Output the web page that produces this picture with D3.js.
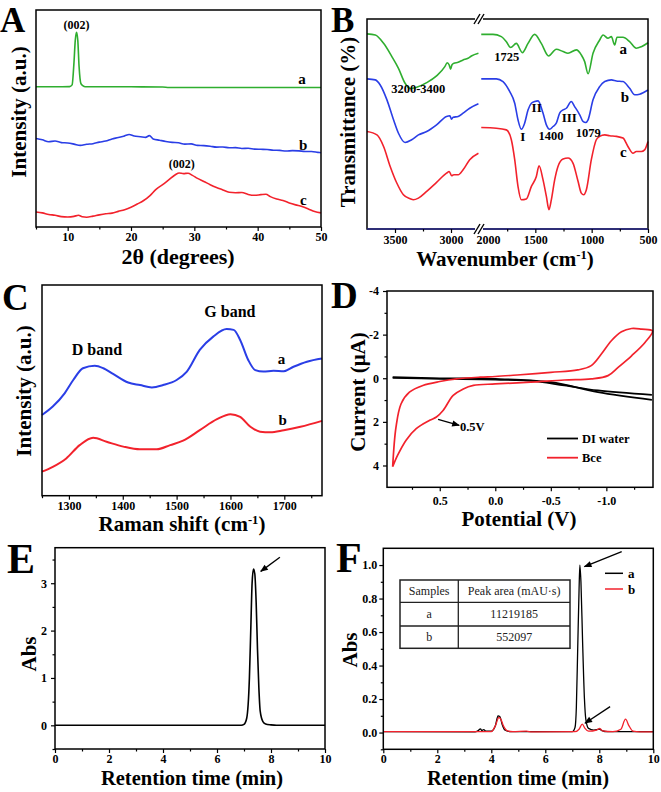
<!DOCTYPE html>
<html><head><meta charset="utf-8">
<script src="https://cdn.jsdelivr.net/npm/d3@7"></script>
<style>body{margin:0;background:#fff}</style>
</head><body>
<script>
const FONT="'Liberation Serif','Times New Roman',Times,serif";
// ================= DATA =================
// Panel A: XRD (2θ, intensity a.u., stacked)
const xrdTicks=[10,20,30,40,50];
const xrdMinor=[5,15,25,35,45];
const xrdA=[[5,64.6],[8,64.6],[10.3,64.7],[10.7,65.5],[11.0,76],[11.2,86],[11.4,89.7],[11.6,86],[11.8,74],[12.1,66],[12.6,64.8],[13,64.6],[20,64.6],[25,64.5],[26,64.3],[35,64.3],[50,64.3]];
const xrdB=[[5,40.8],[6,40.2],[7,39.3],[8,39.6],[9,38.9],[10,38.7],[11,38.2],[12,37.6],[13,38.1],[14,38.4],[15,39.1],[16,39.6],[17,40.6],[18,41.2],[19,42.0],[19.7,42.6],[20.5,41.9],[21.5,41.6],[22.3,41.3],[22.9,42.1],[23.5,40.6],[24.5,40.0],[25.5,39.4],[26.5,39.0],[27.5,38.8],[28.5,38.2],[29.5,38.3],[30.5,37.6],[31.5,37.5],[32.5,37.2],[33.5,36.8],[34.5,36.9],[35.5,36.5],[36.5,36.6],[37.5,36.2],[38.5,36.3],[39.5,35.9],[40.5,35.8],[41.5,35.7],[42.5,35.4],[43.5,35.3],[44.5,35.0],[45.5,35.2],[46.5,35.1],[47.5,34.8],[48.5,34.8],[49.5,34.4],[50,34.2]];
const xrdC=[[5,6.9],[6,6.5],[7,5.8],[8,5.4],[9,4.8],[10,4.6],[11,4.9],[11.7,5.4],[12.3,4.7],[13,4.5],[14,5.0],[15,5.6],[16,6.1],[17,6.4],[18,7.2],[19,8.0],[20,9.1],[21,10.6],[22,12.2],[23,14.5],[24,17.5],[25,19.5],[26,21.8],[27,24.1],[27.6,24.9],[28.3,24.6],[29,24.8],[29.7,23.8],[30.5,22.4],[31.5,21.0],[32.5,19.5],[33.5,18.2],[34.5,17.1],[35.5,16.0],[36.5,15.8],[37.5,15.9],[38.5,15.0],[39.5,14.6],[40.5,14.9],[41.3,15.1],[42,14.0],[43,12.9],[44,12.2],[45,11.1],[46,10.2],[47,9.4],[48,8.3],[49,7.1],[50,6.5]];

// Panel B: FTIR (wavenumber, transmittance a.u.), broken axis
const ftirTicksL=[3500,3000], ftirMinorL=[3250];
const ftirTicksR=[2000,1500,1000,500], ftirMinorR=[1750,1250,750];
const ftirA_L=[[3750,92.9],[3676,92.4],[3602,88.4],[3528,82.1],[3469,76.5],[3410,69.4],[3365,66.9],[3306,67.5],[3217,69.7],[3129,72.9],[3055,77.3],[3034,79.2],[3016,78.1],[3004,76.1],[2992,78.1],[2975,78.9],[2936,79.4],[2892,80.5],[2848,81.3],[2818,82.4],[2755,83.7]];
const ftirA_R=[[1980,92.7],[1876,92.7],[1802,91.6],[1757,89.2],[1719,86.4],[1669,88.4],[1615,84.0],[1565,88.4],[1506,92.7],[1447,88.4],[1382,82.4],[1314,85.6],[1254,84.5],[1210,83.7],[1136,85.3],[1092,82.9],[1062,79.7],[1032,73.9],[988,83.7],[929,90.0],[899,92.4],[855,90.8],[825,91.6],[796,87.6],[775,91.3],[722,91.3],[663,89.2],[604,86.1],[559,86.8],[500,88.7]];
const ftirB_L=[[3750,71.5],[3676,71.0],[3632,68.6],[3572,61.5],[3513,52.0],[3469,45.6],[3410,41.2],[3351,42.5],[3291,44.8],[3217,46.4],[3129,49.6],[3040,53.6],[3010,53.9],[2995,52.3],[2981,53.2],[2936,53.6],[2892,55.2],[2833,57.5],[2755,59.6]];
const ftirB_R=[[1980,71.5],[1846,71.5],[1787,70.2],[1728,65.5],[1683,59.9],[1654,52.0],[1624,47.5],[1595,50.4],[1565,56.7],[1535,59.9],[1506,60.7],[1476,61.0],[1432,55.2],[1402,49.6],[1373,47.5],[1343,48.8],[1314,50.4],[1284,55.2],[1254,56.7],[1225,57.5],[1181,60.7],[1151,58.3],[1106,54.4],[1077,51.2],[1053,50.7],[1032,52.0],[988,61.5],[929,67.8],[884,70.2],[825,71.0],[781,70.5],[722,70.2],[663,67.0],[618,63.9],[574,64.2],[500,66.2]];
const ftirC_L=[[3750,46.4],[3661,44.8],[3602,39.3],[3543,29.8],[3484,21.9],[3425,16.3],[3365,14.4],[3336,13.9],[3291,14.7],[3217,17.9],[3129,22.2],[3040,26.6],[3016,27.4],[2995,25.4],[2975,25.8],[2936,25.8],[2892,28.2],[2833,33.0],[2755,36.1]];
const ftirC_R=[[1980,48.3],[1846,48.0],[1757,47.2],[1713,42.5],[1683,33.0],[1654,20.3],[1624,13.9],[1580,14.3],[1535,20.3],[1491,25.0],[1467,30.1],[1432,23.5],[1402,15.5],[1379,9.2],[1358,13.9],[1328,23.5],[1299,29.8],[1254,33.3],[1210,33.8],[1166,31.4],[1121,22.7],[1092,17.1],[1071,16.3],[1047,18.7],[1003,33.0],[959,42.5],[929,44.1],[884,44.8],[840,44.4],[781,44.1],[722,43.3],[678,39.3],[633,36.1],[604,36.9],[559,36.9],[530,37.7],[500,41.7]];

// Panel C: Raman (shift, intensity a.u.)
const ramanTicks=[1300,1400,1500,1600,1700];
const ramanMinor=[1250,1350,1450,1550,1650,1750];
const ramanA=[[1250,38.3],[1270,42.3],[1292,48.6],[1308,54.9],[1326,60.5],[1348,61.7],[1364,60.5],[1382,57.8],[1410,53.7],[1432,52.5],[1454,51.4],[1475,52.5],[1500,54.9],[1519,58.9],[1543,69.2],[1568,75.5],[1593,79.1],[1606,78.7],[1618,73.9],[1633,64.4],[1646,59.6],[1661,58.9],[1680,59.3],[1699,59.1],[1717,61.2],[1742,63.6],[1770,65.1]];
const ramanB=[[1250,11.4],[1270,13.7],[1295,17.7],[1320,24.0],[1345,27.5],[1370,25.6],[1401,23.3],[1432,22.0],[1463,22.0],[1488,24.0],[1512,26.1],[1543,31.1],[1575,36.3],[1600,38.7],[1618,37.4],[1637,32.7],[1655,30.4],[1674,30.1],[1699,31.1],[1730,32.7],[1770,35.5]];

// Panel D: CV (potential V, current μA)
const cvTicksX=[0.5,0.0,-0.5,-1.0], cvMinorX=[0.75,0.25,-0.25,-0.75,-1.25];
const cvTicksY=[-4,-2,0,2,4], cvMinorY=[-3,-1,1,3];
const cvWaterFwd=[[0.924,-0.05],[0.5,0.0],[0.0,0.03],[-0.318,0.11],[-0.621,0.33],[-0.924,0.56],[-1.41,0.76]];
const cvWaterRev=[[-1.41,0.99],[-0.924,0.64],[-0.5,0.18],[0.0,0.06],[0.5,0.03],[0.924,-0.02]];
const cvBce=[[0.924,4.06],[0.894,2.24],[0.848,1.17],[0.773,0.64],[0.652,0.33],[0.5,0.15],[0.348,0.03],[0.136,-0.05],[0.0,-0.08],[-0.197,-0.15],[-0.5,-0.27],[-0.742,-0.38],[-0.864,-0.58],[-0.955,-1.11],[-1.045,-1.72],[-1.136,-2.13],[-1.227,-2.28],[-1.318,-2.25],[-1.415,-2.17],[-1.348,-1.64],[-1.227,-1.03],[-1.106,-0.50],[-1.015,-0.12],[-0.864,0.03],[-0.621,0.08],[-0.318,0.18],[0.0,0.26],[0.197,0.33],[0.288,0.49],[0.379,0.79],[0.470,1.48],[0.530,1.78],[0.591,1.93],[0.712,2.31],[0.803,2.84],[0.879,3.53],[0.924,4.06]];
const cvLegend=["DI water","Bce"];

// Panel E: HPLC standard
const hplcTicksX=[0,2,4,6,8,10], hplcMinorX=[1,3,5,7,9];
const eTicksY=[0,1,2,3], eMinorY=[-0.5,0.5,1.5,2.5,3.5];
const hplcE=[[0,0],[6.9,0],[7.0,0.02],[7.1,0.15],[7.2,1.0],[7.25,2.0],[7.3,3.0],[7.35,3.3],[7.4,3.2],[7.45,2.6],[7.5,1.6],[7.55,0.8],[7.6,0.3],[7.7,0.08],[7.8,0.03],[8.0,0.01],[8.2,0],[10,0]];

// Panel F: HPLC samples
const fTicksY=[0,0.2,0.4,0.6,0.8,1.0], fMinorY=[-0.1,0.1,0.3,0.5,0.7,0.9];
const hplcFa=[[0,0.005],[3.4,0.004],[3.5,0.01],[3.6,0.022],[3.65,0.012],[3.72,0.018],[3.8,0.008],[4.0,0.008],[4.15,0.04],[4.25,0.1],[4.32,0.095],[4.4,0.05],[4.5,0.015],[4.7,0.005],[5.3,0.006],[7.0,0.005],[7.1,0.03],[7.15,0.15],[7.2,0.5],[7.25,0.85],[7.28,1.0],[7.32,0.9],[7.38,0.55],[7.45,0.2],[7.5,0.08],[7.6,0.025],[7.8,0.015],[8.0,0.02],[8.1,0.012],[8.3,0.005],[10,0.005]];
const hplcFb=[[0,0.005],[4.0,0.006],[4.15,0.04],[4.28,0.09],[4.35,0.08],[4.45,0.04],[4.6,0.01],[4.8,0.005],[5.3,0.008],[5.5,0.004],[7.1,0.005],[7.25,0.02],[7.37,0.05],[7.47,0.025],[7.6,0.008],[7.9,0.015],[8.02,0.025],[8.12,0.01],[8.5,0.005],[8.8,0.02],[8.97,0.08],[9.1,0.04],[9.25,0.008],[9.5,0.004],[10,0.004]];
const fLegend=["a","b"];
const tableHeader=["Samples","Peak area (mAU\u00b7s)"];
const tableRows=[["a","11219185"],["b","552097"]];

// ================= DRAW =================
const GREEN="#2fae2f", BLUE="#2a3ee6", RED="#f2222c";
const svg=d3.select("body").append("svg").attr("width",661).attr("height",792).style("background","#fff");
const defs=svg.append("defs");
defs.append("marker").attr("id","arr").attr("viewBox","0 0 10 10").attr("refX",9).attr("refY",5)
  .attr("markerWidth",7).attr("markerHeight",6).attr("orient","auto")
  .append("path").attr("d","M0,1L10,5L0,9Z").attr("fill","#000");

function txt(x,y,s,o={}){
  return svg.append("text").attr("x",x).attr("y",y).text(s)
   .attr("font-family",FONT).attr("font-weight",o.w||"bold").attr("font-size",o.fs||13)
   .attr("text-anchor",o.a||"middle").attr("fill",o.c||"#000");
}
function ytitle(x,y,s,fs){
  return svg.append("text").attr("transform",`translate(${x},${y}) rotate(-90)`).text(s)
   .attr("font-family",FONT).attr("font-weight","bold").attr("font-size",fs||21).attr("text-anchor","middle");
}
function frame(x0,x1,y0,y1){
  svg.append("rect").attr("x",x0).attr("y",y0).attr("width",x1-x0).attr("height",y1-y0)
   .attr("fill","none").attr("stroke","#000").attr("stroke-width",1.5);
}
function axB(scale,y,major,minor,fmt,pad){
  const g=svg.append("g").attr("transform",`translate(0,${y})`)
   .call(d3.axisBottom(scale).tickValues(major).tickFormat(fmt).tickSize(4).tickSizeOuter(0).tickPadding(pad));
  g.select(".domain").remove();
  g.attr("font-family",FONT).attr("font-size",12).attr("font-weight","bold");
  g.selectAll("line").attr("stroke","#000").attr("stroke-width",1.2);
  if(minor){
    const m=svg.append("g").attr("transform",`translate(0,${y})`)
     .call(d3.axisBottom(scale).tickValues(minor).tickFormat("").tickSize(2.5).tickSizeOuter(0));
    m.select(".domain").remove(); m.selectAll("line").attr("stroke","#000").attr("stroke-width",1.2);
  }
  return g;
}
function axL(scale,x,major,minor,fmt,pad){
  const g=svg.append("g").attr("transform",`translate(${x},0)`)
   .call(d3.axisLeft(scale).tickValues(major).tickFormat(fmt).tickSize(4).tickSizeOuter(0).tickPadding(pad));
  g.select(".domain").remove();
  g.attr("font-family",FONT).attr("font-size",12).attr("font-weight","bold");
  g.selectAll("line").attr("stroke","#000").attr("stroke-width",1.2);
  if(minor){
    const m=svg.append("g").attr("transform",`translate(${x},0)`)
     .call(d3.axisLeft(scale).tickValues(minor).tickFormat("").tickSize(2.5).tickSizeOuter(0));
    m.select(".domain").remove(); m.selectAll("line").attr("stroke","#000").attr("stroke-width",1.2);
  }
  return g;
}
function path(data,sx,sy,color,w,curve){
  svg.append("path").datum(data).attr("fill","none").attr("stroke",color).attr("stroke-width",w)
   .attr("stroke-linejoin","round")
   .attr("d",d3.line().x(d=>sx(d[0])).y(d=>sy(d[1])).curve(curve||d3.curveMonotoneX));
}
function arrow(x1,y1,x2,y2){
  svg.append("line").attr("x1",x1).attr("y1",y1).attr("x2",x2).attr("y2",y2)
   .attr("stroke","#000").attr("stroke-width",1.3).attr("marker-end","url(#arr)");
}
function supTitle(x,y,pre,sup,post,fs){
  const t=svg.append("text").attr("x",x).attr("y",y).attr("font-family",FONT).attr("font-weight","bold")
   .attr("font-size",fs).attr("text-anchor","middle");
  t.append("tspan").text(pre);
  t.append("tspan").attr("dy",-7).attr("font-size",fs*0.6).text(sup);
  t.append("tspan").attr("dy",7).text(post);
}

// ---------- Panel A ----------
{
 const sx=d3.scaleLinear().domain([5,50]).range([36,321]);
 const sy=d3.scaleLinear().domain([0,100]).range([227,10]);
 path(xrdA,sx,sy,GREEN,1.6);
 path(xrdB,sx,sy,BLUE,1.6);
 path(xrdC,sx,sy,RED,1.6);
 frame(36,321,10,227);
 axB(sx,227,xrdTicks,xrdMinor,d=>d,1.5);
 txt(sx(11.4),sy(91.3),"(002)",{fs:12});
 txt(sx(28),sy(27),"(002)",{fs:12});
 txt(sx(47),sy(66),"a",{fs:15});
 txt(sx(47.2),sy(35.5),"b",{fs:15});
 txt(sx(47.2),sy(10.3),"c",{fs:15});
 txt(178,264,"2\u03b8 (degrees)",{fs:22});
 ytitle(26,112,"Intensity (a.u.)",21);
 txt(0,32,"A",{fs:35,a:"start"});
}
// ---------- Panel B ----------
{
 const sxL=d3.scaleLinear().domain([3750,2750]).range([367,479]);
 const sxR=d3.scaleLinear().domain([2000,500]).range([479,648]);
 const sy=d3.scaleLinear().domain([0,100]).range([229,19]);
 [[ftirA_L,ftirA_R,GREEN],[ftirB_L,ftirB_R,BLUE],[ftirC_L,ftirC_R,RED]].forEach(([l,r,c])=>{
   path(l,sxL,sy,c,1.6); path(r,sxR,sy,c,1.6);
 });
 frame(367,648,19,229);
 svg.append("line").attr("x1",367).attr("x2",648).attr("y1",229).attr("y2",229).attr("stroke","#2a2a8a").attr("stroke-width",1.5);
 axB(sxL,229,ftirTicksL,ftirMinorL,d=>d,2);
 const gR=axB(sxR,229,ftirTicksR,ftirMinorR,d=>d,2);
 gR.selectAll(".tick").filter(d=>d===2000).select("line").remove();
 gR.selectAll(".tick").filter(d=>d===2000).select("text").attr("dx",9);
 // break marks
 [19,229].forEach(y=>{
   svg.append("rect").attr("x",475).attr("y",y-2).attr("width",8).attr("height",4).attr("fill","#fff");
   [-2,2].forEach(o=>svg.append("line").attr("x1",479+o-3).attr("y1",y+5).attr("x2",479+o+3).attr("y2",y-5)
     .attr("stroke","#000").attr("stroke-width",1.4));
 });
 txt(sxR(1754),sy(80.2),"1725",{fs:12.5});
 txt(sxR(720),sy(83.5),"a",{fs:15});
 txt(sxL(3292),sy(64.8),"3200-3400",{fs:12.5});
 txt(sxR(705),sy(60.5),"b",{fs:15});
 txt(sxR(1612),sy(42),"I",{fs:13});
 txt(sxR(1488),sy(55.8),"II",{fs:13});
 txt(sxR(1361),sy(42.3),"1400",{fs:12.5});
 txt(sxR(1199),sy(51),"III",{fs:13});
 txt(sxR(1030),sy(43.9),"1079",{fs:12.5});
 txt(sxR(720),sy(34.3),"c",{fs:15});
 supTitle(505,266,"Wavenumber (cm","-1",")",21);
 ytitle(355,122,"Transmittance (%)",21);
 txt(331,32,"B",{fs:35,a:"start"});
}
// ---------- Panel C ----------
{
 const sx=d3.scaleLinear().domain([1250,1770]).range([42,322]);
 const sy=d3.scaleLinear().domain([0,100]).range([495.7,285]);
 path(ramanA,sx,sy,BLUE,2);
 path(ramanB,sx,sy,RED,2);
 frame(42,322,285,495.7);
 axB(sx,495.7,ramanTicks,ramanMinor,d=>d,2);
 txt(sx(1352),sy(67),"D band",{fs:16});
 txt(sx(1599),sy(84.7),"G band",{fs:16});
 txt(sx(1695),sy(62.7),"a",{fs:15});
 txt(sx(1697),sy(33.7),"b",{fs:15});
 supTitle(182,531,"Raman shift (cm","-1",")",21);
 ytitle(31,391,"Intensity (a.u.)",21);
 txt(2,310,"C",{fs:37,a:"start"});
}
// ---------- Panel D ----------
{
 const sx=d3.scaleLinear().domain([0.975,-1.42]).range([387,653]);
 const sy=d3.scaleLinear().domain([-4,5]).range([291,487.3]);
 path(cvWaterFwd,sx,sy,"#000",1.7,d3.curveCatmullRom);
 path(cvWaterRev,sx,sy,"#000",1.7,d3.curveCatmullRom);
 path(cvBce,sx,sy,RED,1.7,d3.curveCatmullRom);
 frame(387,653,291,487.3);
 axB(sx,487.3,cvTicksX,cvMinorX,d=>d.toFixed(1),5);
 axL(sy,387,cvTicksY,cvMinorY,d=>String(d),4);
 arrow(sx(0.515),sy(1.89),sx(0.325),sy(2.16));
 txt(sx(0.318),sy(2.24)+4,"0.5V",{fs:12.5,a:"start"});
 [["#000",438.5],[RED,457.7]].forEach(([c,y],i)=>{
   svg.append("line").attr("x1",547).attr("x2",578).attr("y1",y).attr("y2",y).attr("stroke",c).attr("stroke-width",1.8);
   txt(582,y+4.5,cvLegend[i],{fs:12.5,a:"start"});
 });
 txt(519,526,"Potential (V)",{fs:21});
 ytitle(365,392,"Current (\u03bcA)",21);
 txt(331,308,"D",{fs:37,a:"start"});
}
// ---------- Panel E ----------
{
 const sx=d3.scaleLinear().domain([0,10]).range([55,325]);
 const sy=d3.scaleLinear().domain([-0.5,3.75]).range([749,547.7]);
 path(hplcE,sx,sy,"#000",1.6);
 frame(55,325,547.7,749);
 axB(sx,749,hplcTicksX,hplcMinorX,d=>d,1);
 axL(sy,55,eTicksY,eMinorY,d=>d,4);
 arrow(sx(8.33),sy(3.55),sx(7.62),sy(3.25));
 txt(192,785,"Retention time (min)",{fs:20.5});
 ytitle(36,654,"Abs",21);
 txt(7,573,"E",{fs:42,a:"start"});
}
// ---------- Panel F ----------
{
 const sx=d3.scaleLinear().domain([0,10]).range([383.3,653.3]);
 const sy=d3.scaleLinear().domain([-0.1,1.1]).range([749.3,548.3]);
 path(hplcFa,sx,sy,"#000",1.3);
 path(hplcFb,sx,sy,RED,1.3);
 frame(383.3,653.3,548.3,749.3);
 axB(sx,749.3,hplcTicksX,hplcMinorX,d=>d,1);
 axL(sy,383.3,fTicksY,fMinorY,d=>d.toFixed(1),2);
 arrow(sx(8.83),sy(1.08),sx(7.45),sy(0.99));
 arrow(sx(8.4),sy(0.155),sx(7.47),sy(0.056));
 [["#000",573.3],[RED,589]].forEach(([c,y],i)=>{
   svg.append("line").attr("x1",605).attr("x2",623).attr("y1",y).attr("y2",y).attr("stroke",c).attr("stroke-width",1.5);
   txt(628,y+4.5,fLegend[i],{fs:13,a:"start"});
 });
 // table
 const tx0=400,tx1=570,tcol=458.3,ty=[580,602.3,626,648.3];
 svg.append("rect").attr("x",tx0).attr("y",ty[0]).attr("width",tx1-tx0).attr("height",ty[3]-ty[0])
   .attr("fill","#fff").attr("stroke","#222").attr("stroke-width",1.5);
 svg.append("line").attr("x1",tcol).attr("x2",tcol).attr("y1",ty[0]).attr("y2",ty[3]).attr("stroke","#222").attr("stroke-width",1.3);
 [ty[1],ty[2]].forEach(y=>svg.append("line").attr("x1",tx0).attr("x2",tx1).attr("y1",y).attr("y2",y).attr("stroke","#222").attr("stroke-width",1.3));
 const rows=[tableHeader,...tableRows];
 rows.forEach((r,i)=>{
   const yc=(ty[i]+ty[i+1])/2+4.2;
   txt((tx0+tcol)/2,yc,r[0],{fs:12,w:"normal",c:"#222"});
   txt((tcol+tx1)/2,yc,r[1],{fs:12,w:"normal",c:"#222"});
 });
 txt(518,785,"Retention time (min)",{fs:20.5});
 ytitle(357,650,"Abs",21);
 txt(336,572,"F",{fs:42,a:"start"});
}
</script></body></html>
